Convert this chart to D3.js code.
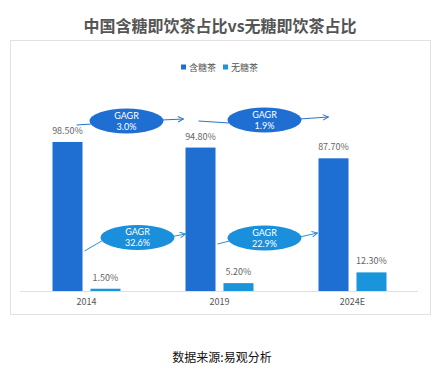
<!DOCTYPE html>
<html>
<head>
<meta charset="utf-8">
<script src="https://cdn.jsdelivr.net/npm/d3@7/dist/d3.min.js"></script>
<style>
  html, body { margin: 0; padding: 0; background: #fff; }
  svg { display: block; font-family: "Noto Sans CJK SC", "Noto Sans", sans-serif; }
</style>
</head>
<body>
<svg id="chart" width="441" height="369"></svg>
<script>
// Share of sugared vs. sugar-free ready-to-drink tea in China
const categories = ["2014", "2019", "2024E"];
const series = ["含糖茶", "无糖茶"];
const sugared = [98.5, 94.8, 87.7];
const sugarFree = [1.5, 5.2, 12.3];
const growthSugared = ["3.0%", "1.9%"];
const growthFree = ["32.6%", "22.9%"];
const growthTitle = "GAGR";
const chartTitle = "中国含糖即饮茶占比vs无糖即饮茶占比";
const sourceNote = "数据来源:易观分析";

const colors = { "含糖茶": "#1f6fd2", "无糖茶": "#1a95dc" };

const svg = d3.select("#chart");

// Title
svg.append("text")
  .attr("x", 220).attr("y", 32)
  .attr("text-anchor", "middle")
  .attr("font-size", 16).attr("font-weight", "bold")
  .attr("fill", "#555")
  .text(chartTitle);

// Frame
svg.append("rect")
  .attr("x", 10.5).attr("y", 40.5).attr("width", 420).attr("height", 274)
  .attr("fill", "#fff").attr("stroke", "#e2e2e2");

// Scales
const x0 = d3.scaleBand().domain(categories).range([20, 419]);
const x1 = d3.scaleBand().domain(series).range([-34, 34]).paddingInner(0.21);
const y = d3.scaleLinear().domain([0, 100]).range([291, 139.7]);

const rows = categories.map((c, i) => ({ cat: c, values: [sugared[i], sugarFree[i]] }));

// Legend
const legend = svg.append("g").attr("font-size", 9).attr("fill", "#555");
[[181, series[0]], [223, series[1]]].forEach(([lx, s]) => {
  legend.append("rect").attr("x", lx).attr("y", 64.5).attr("width", 5).attr("height", 5).attr("fill", colors[s]);
  legend.append("text").attr("x", lx + 8).attr("y", 70.5).text(s);
});

// Bars and value labels
const groups = svg.selectAll("g.cat").data(rows).join("g")
  .attr("class", "cat")
  .attr("transform", d => `translate(${x0(d.cat) + x0.bandwidth() / 2},0)`);

groups.selectAll("rect").data(d => d.values.map((v, j) => ({ s: series[j], v })))
  .join("rect")
  .attr("x", d => x1(d.s)).attr("width", x1.bandwidth())
  .attr("y", d => y(d.v)).attr("height", d => y(0) - y(d.v))
  .attr("fill", d => colors[d.s]);

groups.selectAll("text.val").data(d => d.values.map((v, j) => ({ s: series[j], v })))
  .join("text")
  .attr("class", "val")
  .attr("x", d => x1(d.s) + x1.bandwidth() / 2)
  .attr("y", d => y(d.v) - 8)
  .attr("text-anchor", "middle")
  .attr("font-size", 9).attr("fill", "#666")
  .text(d => d.v.toFixed(2) + "%");

// Baseline and category labels
svg.append("line")
  .attr("x1", 20).attr("x2", 418).attr("y1", y(0) + 0.5).attr("y2", y(0) + 0.5)
  .attr("stroke", "#e0e0e0");

const xAxis = svg.append("g").attr("transform", `translate(0,${y(0)})`)
  .call(d3.axisBottom(x0).tickSize(0).tickPadding(8));
xAxis.select(".domain").remove();
xAxis.selectAll("text").attr("font-size", 9).attr("fill", "#555")
  .attr("font-family", "\"Noto Sans CJK SC\", sans-serif");

// Growth-rate callouts between consecutive years
const defs = svg.append("defs");
function arrowMarker(id, color) {
  defs.append("marker").attr("id", id)
    .attr("viewBox", "0 0 10 10").attr("refX", 9).attr("refY", 5)
    .attr("markerWidth", 7).attr("markerHeight", 7).attr("orient", "auto")
    .append("path").attr("d", "M1,1 L9,5 L1,9").attr("fill", "none")
    .attr("stroke", color).attr("stroke-width", 1.4);
}
arrowMarker("arrTop", "#2a74c9");
arrowMarker("arrBot", "#2a8fd0");

function center(i) { return x0(categories[i]) + x0.bandwidth() / 2; }

// callout layout: ellipse offset from the left year's centre, and lead/arrow points
const callouts = [
  { label: growthSugared[0], fill: "#1f6fd2", stroke: "#2a74c9", marker: "arrTop",
    cx: center(0) + 40, cy: 121, inFrom: [center(0) - 10, 125], outTo: [center(1) - 36, 119] },
  { label: growthSugared[1], fill: "#1f6fd2", stroke: "#2a74c9", marker: "arrTop",
    cx: center(1) + 45, cy: 120, inFrom: [center(1) - 21, 121], outTo: [center(2) - 24, 117] },
  { label: growthFree[0], fill: "#1a8fdb", stroke: "#2a8fd0", marker: "arrBot",
    cx: center(0) + 51, cy: 237.5, inFrom: [center(0) - 2, 251], outTo: [center(1) - 34, 234] },
  { label: growthFree[1], fill: "#1a8fdb", stroke: "#2a8fd0", marker: "arrBot",
    cx: center(1) + 45, cy: 238, inFrom: [center(1) - 2, 244], outTo: [center(2) - 35, 233] }
];
const rx = 37, ry = 12.5;

callouts.forEach(c => {
  const g = svg.append("g");
  g.append("line")
    .attr("x1", c.inFrom[0]).attr("y1", c.inFrom[1])
    .attr("x2", c.cx - rx + 2).attr("y2", c.cy + 3)
    .attr("stroke", c.stroke).attr("stroke-width", 1);
  g.append("line")
    .attr("x1", c.cx + rx - 2).attr("y1", c.cy - 1)
    .attr("x2", c.outTo[0]).attr("y2", c.outTo[1])
    .attr("stroke", c.stroke).attr("stroke-width", 1)
    .attr("marker-end", `url(#${c.marker})`);
  g.append("ellipse")
    .attr("cx", c.cx).attr("cy", c.cy).attr("rx", rx).attr("ry", ry)
    .attr("fill", c.fill);
  const t = g.append("g")
    .attr("text-anchor", "middle").attr("font-size", 9).attr("fill", "#fff")
    .attr("font-family", "Lato, \"Open Sans\", sans-serif");
  t.append("text").attr("x", c.cx).attr("y", c.cy - 2.2).text(growthTitle);
  t.append("text").attr("x", c.cx).attr("y", c.cy + 8.8).text(c.label);
});

// Source note
svg.append("text")
  .attr("x", 222).attr("y", 362)
  .attr("text-anchor", "middle")
  .attr("font-size", 12).attr("fill", "#111")
  .text(sourceNote);
</script>
</body>
</html>
